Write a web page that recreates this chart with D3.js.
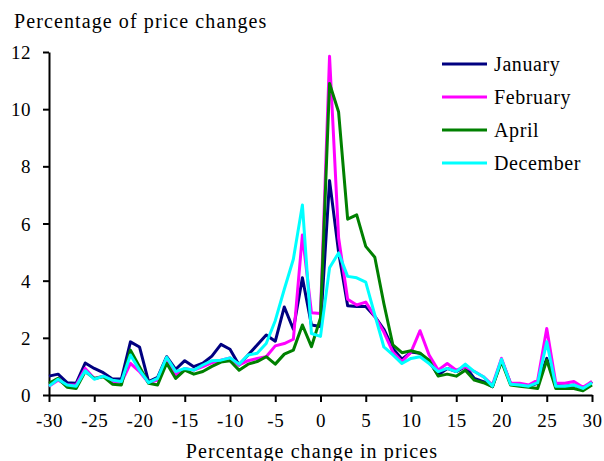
<!DOCTYPE html>
<html>
<head>
<meta charset="utf-8">
<script src="https://cdn.jsdelivr.net/npm/d3@7"></script>
<style>
  body { margin: 0; background: #fff; }
  svg text { font-family: "Liberation Serif", "Times New Roman", serif; fill: #000; }
</style>
</head>
<body>
<svg id="chart"></svg>
<script>
const priceChange = d3.range(-30, 31);

const january = [0.66, 0.73, 0.43, 0.41, 1.12, 0.93, 0.78, 0.56, 0.56, 1.86, 1.68, 0.47, 0.62, 1.34, 0.9, 1.2, 0.99, 1.11, 1.36, 1.77,
  1.6, 1.05, 1.4, 1.75, 2.1, 1.88, 3.08, 2.3, 4.1, 2.45, 2.4, 7.5, 5.0, 3.12, 3.1, 3.1, 2.75, 2.3, 1.63, 1.25,
  1.5, 1.46, 1.17, 0.7, 0.93, 0.82, 0.99, 0.58, 0.47, 0.29, 1.22, 0.41, 0.38, 0.31, 0.41, 1.28, 0.35, 0.31, 0.35, 0.2, 0.47];
const february = [0.31, 0.52, 0.35, 0.35, 0.93, 0.58, 0.66, 0.47, 0.43, 1.11, 0.82, 0.43, 0.52, 1.28, 0.7, 0.93, 0.87, 0.99, 1.13, 1.22,
  1.3, 1.05, 1.2, 1.28, 1.34, 1.72, 1.8, 1.95, 5.6, 2.88, 2.85, 11.85, 5.5, 3.35, 3.15, 3.25, 2.75, 2.2, 1.5, 1.17,
  1.5, 2.25, 1.4, 0.87, 1.1, 0.87, 0.99, 0.82, 0.64, 0.35, 1.28, 0.41, 0.41, 0.35, 0.52, 2.33, 0.41, 0.41, 0.47, 0.27, 0.47];
const april = [0.41, 0.58, 0.27, 0.23, 0.82, 0.58, 0.64, 0.38, 0.35, 1.57, 0.99, 0.41, 0.35, 1.11, 0.58, 0.87, 0.73, 0.82, 1.0, 1.15,
  1.2, 0.87, 1.08, 1.17, 1.34, 1.08, 1.43, 1.57, 2.45, 1.69, 2.7, 10.9, 9.9, 6.15, 6.3, 5.2, 4.82, 3.2, 1.75, 1.48,
  1.55, 1.46, 1.22, 0.66, 0.73, 0.66, 0.87, 0.52, 0.43, 0.29, 1.17, 0.35, 0.31, 0.27, 0.23, 1.22, 0.23, 0.23, 0.23, 0.15, 0.35];
const december = [0.31, 0.55, 0.35, 0.31, 0.85, 0.55, 0.66, 0.52, 0.47, 1.4, 0.87, 0.43, 0.58, 1.32, 0.82, 0.93, 0.87, 1.05, 1.2, 1.22,
  1.3, 1.08, 1.4, 1.46, 1.8, 2.6, 3.7, 4.75, 6.65, 2.15, 2.05, 4.45, 4.97, 4.15, 4.1, 3.95, 2.8, 1.68, 1.4, 1.1,
  1.28, 1.34, 1.1, 0.82, 0.93, 0.82, 1.08, 0.82, 0.64, 0.31, 1.25, 0.38, 0.35, 0.31, 0.43, 1.86, 0.31, 0.31, 0.35, 0.23, 0.43];

const seriesNames = ["January", "February", "April", "December"];
const seriesColors = ["#000080", "#ff00ff", "#008000", "#00ffff"];
const seriesValues = [january, february, april, december];

const xTicks = d3.range(-30, 31, 5);
const yTicks = d3.range(0, 13, 2);

const w = 604;
const h = 461;

const svg = d3.select("#chart").attr("width", w).attr("height", h);

const x = d3.scaleLinear().domain([-30, 30]).range([49, 592]);
const y = d3.scaleLinear().domain([0, 12]).range([395, 52]);

// plain hyphen for negatives, like the original
const xAxis = d3.axisBottom(x).tickValues(xTicks).tickFormat((d) => String(d))
  .tickSize(7).tickSizeOuter(0).tickPadding(12);
const yAxis = d3.axisLeft(y).tickValues(yTicks).tickFormat((d) => String(d))
  .tickSize(6).tickSizeOuter(0).tickPadding(12);

const gx = svg.append("g").attr("transform", `translate(0, ${y(0)})`).call(xAxis);
const gy = svg.append("g").attr("transform", `translate(${x(-30)}, 0)`).call(yAxis);

[gx, gy].forEach((g) => {
  g.selectAll("path, line").attr("stroke", "#000").attr("stroke-width", 2);
  g.selectAll("text").attr("font-size", 19).attr("fill", "#000")
    .attr("font-family", "Liberation Serif");
});
gx.selectAll("text").attr("dy", "0.71em").attr("letter-spacing", 0.5);
gy.selectAll("text").attr("dy", "0.35em").attr("letter-spacing", 0.5);

const line = d3.line()
  .x((d, i) => x(priceChange[i]))
  .y((d) => y(d));

svg.selectAll(".series")
  .data(seriesValues)
  .enter()
  .append("path")
  .attr("class", "series")
  .attr("fill", "none")
  .attr("stroke", (d, i) => seriesColors[i])
  .attr("stroke-width", 3)
  .attr("stroke-linejoin", "round")
  .attr("d", line);

// titles
svg.append("text")
  .attr("x", 14)
  .attr("y", 28)
  .attr("font-size", 20)
  .attr("letter-spacing", 1.1)
  .text("Percentage of price changes");

svg.append("text")
  .attr("x", 312)
  .attr("y", 458)
  .attr("text-anchor", "middle")
  .attr("font-size", 20)
  .attr("letter-spacing", 1.1)
  .text("Percentage change in prices");

// legend
const legend = svg.append("g").attr("transform", "translate(442, 64)");
const items = legend.selectAll(".legend-item")
  .data(seriesNames)
  .enter()
  .append("g")
  .attr("class", "legend-item")
  .attr("transform", (d, i) => `translate(0, ${i * 33})`);

items.append("line")
  .attr("x1", 0).attr("x2", 45)
  .attr("y1", 0).attr("y2", 0)
  .attr("stroke", (d, i) => seriesColors[i])
  .attr("stroke-width", 3);

items.append("text")
  .attr("x", 52)
  .attr("y", 0)
  .attr("dy", "0.35em")
  .attr("font-size", 20)
  .attr("letter-spacing", 0.6)
  .text((d) => d);
</script>
</body>
</html>
